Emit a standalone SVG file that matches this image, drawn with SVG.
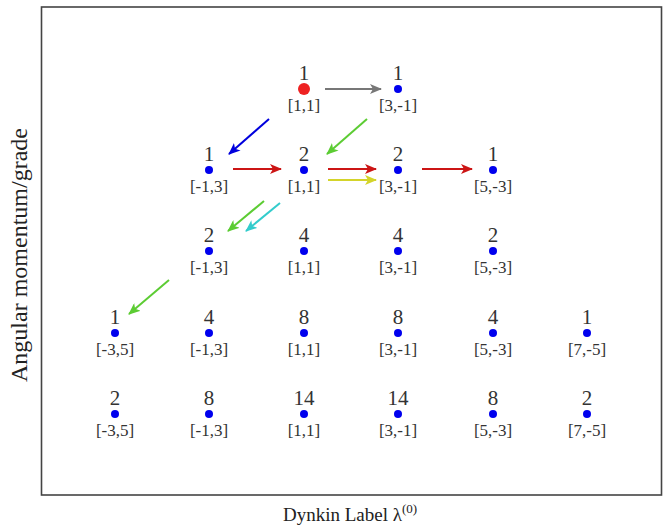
<svg xmlns="http://www.w3.org/2000/svg" width="670" height="527" viewBox="0 0 670 527">
<defs>
<style>
.n{font-family:"Liberation Serif","DejaVu Serif",serif;font-size:21px;fill:#333;text-anchor:middle}
.l{font-family:"Liberation Serif","DejaVu Serif",serif;font-size:17px;fill:#333;text-anchor:middle}
.ax{font-family:"Liberation Serif","DejaVu Serif",serif;font-size:19px;fill:#222;text-anchor:middle}
.d{fill:#0000ee}
.a{stroke-width:2;fill:none}
</style>
<marker id="mg" viewBox="0 0 12 10" refX="11" refY="5" markerWidth="12" markerHeight="10" markerUnits="userSpaceOnUse" orient="auto"><path d="M0,0 L12,5 L0,10 L3,5 Z" fill="#777"/></marker>
<marker id="mb" viewBox="0 0 12 10" refX="11" refY="5" markerWidth="12" markerHeight="10" markerUnits="userSpaceOnUse" orient="auto"><path d="M0,0 L12,5 L0,10 L3,5 Z" fill="#0000dd"/></marker>
<marker id="mgr" viewBox="0 0 12 10" refX="11" refY="5" markerWidth="12" markerHeight="10" markerUnits="userSpaceOnUse" orient="auto"><path d="M0,0 L12,5 L0,10 L3,5 Z" fill="#5ccc33"/></marker>
<marker id="mr" viewBox="0 0 12 10" refX="11" refY="5" markerWidth="12" markerHeight="10" markerUnits="userSpaceOnUse" orient="auto"><path d="M0,0 L12,5 L0,10 L3,5 Z" fill="#cc1515"/></marker>
<marker id="my" viewBox="0 0 12 10" refX="11" refY="5" markerWidth="12" markerHeight="10" markerUnits="userSpaceOnUse" orient="auto"><path d="M0,0 L12,5 L0,10 L3,5 Z" fill="#d4d42a"/></marker>
<marker id="mc" viewBox="0 0 12 10" refX="11" refY="5" markerWidth="12" markerHeight="10" markerUnits="userSpaceOnUse" orient="auto"><path d="M0,0 L12,5 L0,10 L3,5 Z" fill="#33cccc"/></marker>
</defs>
<rect x="0" y="0" width="670" height="527" fill="#fff"/>
<rect x="41.5" y="7" width="620" height="488" fill="none" stroke="#444" stroke-width="1.6"/>
<text class="ax" x="350" y="521">Dynkin Label λ<tspan font-size="13" dy="-8">(0)</tspan></text>
<text class="ax" style="font-size:24px" transform="translate(27,255) rotate(-90)">Angular momentum/grade</text>

<g id="n1_11"><text class="n" x="304" y="80">1</text><circle cx="304" cy="89" r="6" fill="#ee2222"/><text class="l" x="304" y="111">[1,1]</text></g>
<g id="n1_3m1"><text class="n" x="398" y="80">1</text><circle class="d" cx="398" cy="89" r="4"/><text class="l" x="398" y="111">[3,-1]</text></g>

<g id="n2_m13"><text class="n" x="209" y="161">1</text><circle class="d" cx="209" cy="170" r="4"/><text class="l" x="209" y="192">[-1,3]</text></g>
<g id="n2_11"><text class="n" x="304" y="161">2</text><circle class="d" cx="304" cy="170" r="4"/><text class="l" x="304" y="192">[1,1]</text></g>
<g id="n2_3m1"><text class="n" x="398" y="161">2</text><circle class="d" cx="398" cy="170" r="4"/><text class="l" x="398" y="192">[3,-1]</text></g>
<g id="n2_5m3"><text class="n" x="493" y="161">1</text><circle class="d" cx="493" cy="170" r="4"/><text class="l" x="493" y="192">[5,-3]</text></g>

<g id="n3_m13"><text class="n" x="209" y="242">2</text><circle class="d" cx="209" cy="251" r="4"/><text class="l" x="209" y="273">[-1,3]</text></g>
<g id="n3_11"><text class="n" x="304" y="242">4</text><circle class="d" cx="304" cy="251" r="4"/><text class="l" x="304" y="273">[1,1]</text></g>
<g id="n3_3m1"><text class="n" x="398" y="242">4</text><circle class="d" cx="398" cy="251" r="4"/><text class="l" x="398" y="273">[3,-1]</text></g>
<g id="n3_5m3"><text class="n" x="493" y="242">2</text><circle class="d" cx="493" cy="251" r="4"/><text class="l" x="493" y="273">[5,-3]</text></g>

<g id="n4_m35"><text class="n" x="115" y="324">1</text><circle class="d" cx="115" cy="333" r="4"/><text class="l" x="115" y="355">[-3,5]</text></g>
<g id="n4_m13"><text class="n" x="209" y="324">4</text><circle class="d" cx="209" cy="333" r="4"/><text class="l" x="209" y="355">[-1,3]</text></g>
<g id="n4_11"><text class="n" x="304" y="324">8</text><circle class="d" cx="304" cy="333" r="4"/><text class="l" x="304" y="355">[1,1]</text></g>
<g id="n4_3m1"><text class="n" x="398" y="324">8</text><circle class="d" cx="398" cy="333" r="4"/><text class="l" x="398" y="355">[3,-1]</text></g>
<g id="n4_5m3"><text class="n" x="493" y="324">4</text><circle class="d" cx="493" cy="333" r="4"/><text class="l" x="493" y="355">[5,-3]</text></g>
<g id="n4_7m5"><text class="n" x="587" y="324">1</text><circle class="d" cx="587" cy="333" r="4"/><text class="l" x="587" y="355">[7,-5]</text></g>

<g id="n5_m35"><text class="n" x="115" y="405">2</text><circle class="d" cx="115" cy="414" r="4"/><text class="l" x="115" y="436">[-3,5]</text></g>
<g id="n5_m13"><text class="n" x="209" y="405">8</text><circle class="d" cx="209" cy="414" r="4"/><text class="l" x="209" y="436">[-1,3]</text></g>
<g id="n5_11"><text class="n" x="304" y="405">14</text><circle class="d" cx="304" cy="414" r="4"/><text class="l" x="304" y="436">[1,1]</text></g>
<g id="n5_3m1"><text class="n" x="398" y="405">14</text><circle class="d" cx="398" cy="414" r="4"/><text class="l" x="398" y="436">[3,-1]</text></g>
<g id="n5_5m3"><text class="n" x="493" y="405">8</text><circle class="d" cx="493" cy="414" r="4"/><text class="l" x="493" y="436">[5,-3]</text></g>
<g id="n5_7m5"><text class="n" x="587" y="405">2</text><circle class="d" cx="587" cy="414" r="4"/><text class="l" x="587" y="436">[7,-5]</text></g>

<g id="connectors">
<line class="a" x1="325" y1="89" x2="381" y2="89" stroke="#777" marker-end="url(#mg)"/>
<line class="a" x1="269" y1="119" x2="229" y2="154" stroke="#0000dd" marker-end="url(#mb)"/>
<line class="a" x1="367" y1="119" x2="327" y2="154" stroke="#5ccc33" marker-end="url(#mgr)"/>
<line class="a" x1="233" y1="169" x2="281" y2="169" stroke="#cc1515" marker-end="url(#mr)"/>
<line class="a" x1="328" y1="169" x2="376" y2="169" stroke="#cc1515" marker-end="url(#mr)"/>
<line class="a" x1="422" y1="169" x2="472" y2="169" stroke="#cc1515" marker-end="url(#mr)"/>
<line class="a" x1="328" y1="180" x2="376" y2="180" stroke="#d4d42a" marker-end="url(#my)"/>
<line class="a" x1="264" y1="201" x2="228" y2="231" stroke="#5ccc33" marker-end="url(#mgr)"/>
<line class="a" x1="280" y1="203" x2="246" y2="231" stroke="#33cccc" marker-end="url(#mc)"/>
<line class="a" x1="169" y1="280" x2="129" y2="314" stroke="#5ccc33" marker-end="url(#mgr)"/>
</g>
</svg>
